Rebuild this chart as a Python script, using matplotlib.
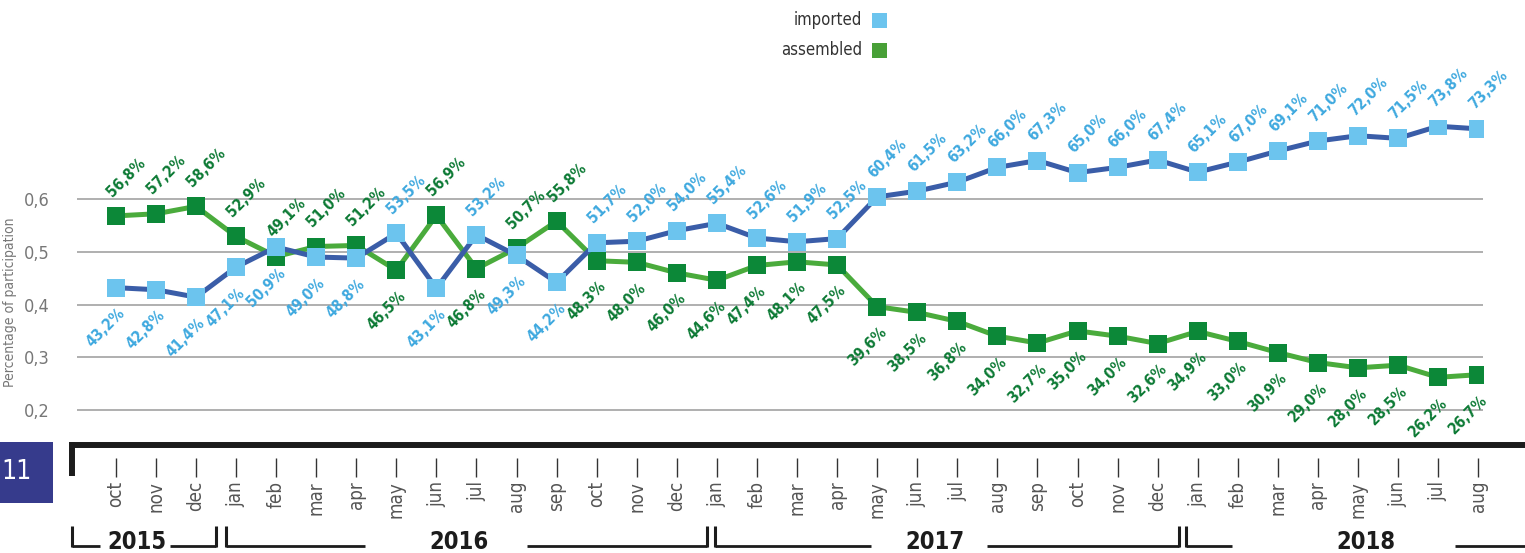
import numpy as np
import matplotlib
matplotlib.use("Agg")
import matplotlib.pyplot as plt
from matplotlib.patches import Rectangle

# data (percent of participation per month, oct 2015 - aug 2018)
months = (["oct", "nov", "dec"]
          + ["jan", "feb", "mar", "apr", "may", "jun", "jul", "aug", "sep", "oct", "nov", "dec"] * 2
          + ["jan", "feb", "mar", "apr", "may", "jun", "jul", "aug"])
imported = [43.2, 42.8, 41.4,
            47.1, 50.9, 49.0, 48.8, 53.5, 43.1, 53.2, 49.3, 44.2, 51.7, 52.0, 54.0,
            55.4, 52.6, 51.9, 52.5, 60.4, 61.5, 63.2, 66.0, 67.3, 65.0, 66.0, 67.4,
            65.1, 67.0, 69.1, 71.0, 72.0, 71.5, 73.8, 73.3]
assembled = [56.8, 57.2, 58.6,
             52.9, 49.1, 51.0, 51.2, 46.5, 56.9, 46.8, 50.7, 55.8, 48.3, 48.0, 46.0,
             44.6, 47.4, 48.1, 47.5, 39.6, 38.5, 36.8, 34.0, 32.7, 35.0, 34.0, 32.6,
             34.9, 33.0, 30.9, 29.0, 28.0, 28.5, 26.2, 26.7]
yticks = [0.2, 0.3, 0.4, 0.5, 0.6]
ytick_labels = ["0,2", "0,3", "0,4", "0,5", "0,6"]
years = ["2015", "2016", "2017", "2018"]

# year bracket layout (in month-index units)
year_left = [-1.10, 2.75, 14.95, 26.71]
year_right = [2.50, 14.75, 26.53, 35.20]
year_mid = [0.52, 8.56, 20.44, 31.20]
gap_l = [0.92, 2.34, 1.59, 3.34]
gap_r = [0.83, 1.70, 1.30, 2.23]

plt.rcParams['font.family'] = ['DejaVu Sans']
plt.rcParams['font.stretch'] = 'condensed'

W, H = 1525, 553
fig = plt.figure(figsize=(W / 100, H / 100), dpi=100)


def box(x0, y0, x1, y1):
    return [x0 / W, 1 - y1 / H, (x1 - x0) / W, (y1 - y0) / H]


c_imp_line = '#3a5da8'
c_imp_mark = '#6cc4ee'
c_imp_text = '#3fa9df'
c_asm_line = '#4aab3c'
c_asm_mark = '#0c8838'
c_asm_text = '#0d7a35'

ax = fig.add_axes(box(77, 119.9, 1483, 436.4))
x = np.arange(len(months))
ax.set_xlim(-0.97, 34.12)
ax.set_ylim(0.15, 0.75)
for s in ax.spines.values():
    s.set_visible(False)
ax.set_xticks([])
ax.set_yticks(yticks)
ax.set_yticklabels(ytick_labels)
ax.tick_params(axis='y', length=0, pad=20, labelsize=13, labelcolor='#777777')
ax.grid(axis='y', color='#9a9a9a', lw=1.1)
ax.set_axisbelow(True)

imp = np.array(imported) / 100
asm = np.array(assembled) / 100

ax.plot(x, asm, color=c_asm_line, lw=3.6, zorder=2)
ax.plot(x, asm, 's', color=c_asm_mark, ms=12.3, mew=0, zorder=3)
ax.plot(x, imp, color=c_imp_line, lw=3.6, zorder=4)
ax.plot(x, imp, 's', color=c_imp_mark, ms=12.3, mew=0, zorder=5)

flip = {4}
for i in range(len(months)):
    imp_up = imported[i] > assembled[i]
    if i in flip:
        imp_up = not imp_up
    for v, up, col in [(imported[i], imp_up, c_imp_text), (assembled[i], not imp_up, c_asm_text)]:
        txt = f"{v:.1f}%".replace('.', ',')
        if up:
            ax.annotate(txt, (i, v / 100), xytext=(-1, 12), textcoords='offset points',
                        rotation=45, rotation_mode='anchor', ha='left', va='bottom',
                        color=col, fontsize=11, fontweight='bold', annotation_clip=False, zorder=6)
        else:
            ax.annotate(txt, (i, v / 100), xytext=(1, -13), textcoords='offset points',
                        rotation=45, rotation_mode='anchor', ha='right', va='top',
                        color=col, fontsize=11, fontweight='bold', annotation_clip=False, zorder=6)

fig.text(10 / W, 1 - 302 / H, "Percentage of participation", rotation=90,
         ha='center', va='center', fontsize=10, color='#777777')

# legend
for k, (name, col) in enumerate([("imported", c_imp_mark), ("assembled", '#48a037')]):
    yc = 20 + k * 30
    fig.text(862 / W, 1 - yc / H, name, ha='right', va='center', fontsize=12, color='#333333')
    fig.add_artist(Rectangle((872 / W, 1 - (yc + 7.5) / H), 15 / W, 15 / H,
                             transform=fig.transFigure, color=col, lw=0))

# chapter box
fig.add_artist(Rectangle((0, 1 - 503 / H), 53 / W, 61 / H, transform=fig.transFigure,
                         color='#363b8c', lw=0))
fig.text(16 / W, 1 - 472 / H, "11", ha='center', va='center', fontsize=19, color='white')

# month axis
bx = fig.add_axes(box(77, 430, 1483, 553))
bx.set_xlim(-0.97, 34.12)
bx.set_ylim(553, 430)
bx.axis('off')
bx.plot([-1.15, 35.3], [445, 445], color='#1c1c1c', lw=4.3, solid_capstyle='butt', clip_on=False)
bx.plot([-1.10, -1.10], [442, 476], color='#1c1c1c', lw=4.3, solid_capstyle='butt', clip_on=False)
bx.vlines(x, 458, 477, color='#333333', lw=1)
for i, m in enumerate(months):
    bx.text(i, 481, m, rotation=90, ha='center', va='top', fontsize=13.5, color='#555555')

for k, yr in enumerate(years):
    l, r, c = year_left[k], year_right[k], year_mid[k]
    bx.plot([l, c - gap_l[k]], [546, 546], color='#1c1c1c', lw=2, clip_on=False, solid_capstyle='butt')
    bx.plot([c + gap_r[k], r], [546, 546], color='#1c1c1c', lw=2, clip_on=False, solid_capstyle='butt')
    bx.plot([l, l], [526, 547], color='#1c1c1c', lw=2.2, clip_on=False, solid_capstyle='butt')
    if k < len(years) - 1:
        bx.plot([r, r], [526, 547], color='#1c1c1c', lw=2.2, clip_on=False, solid_capstyle='butt')
    bx.text(c, 542, yr, ha='center', va='center', fontsize=17, fontweight='bold',
            color='#1c1c1c', clip_on=False)

fig.savefig("out.png", dpi=100)
